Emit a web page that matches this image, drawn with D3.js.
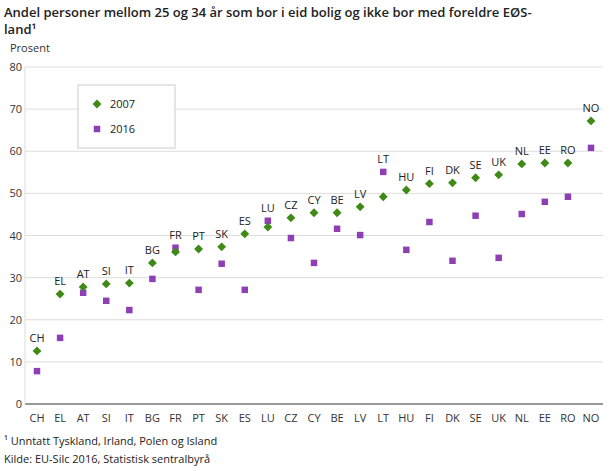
<!DOCTYPE html><html><head><meta charset="utf-8"><script src="https://cdn.jsdelivr.net/npm/d3@7"></script>
<style>body{margin:0;background:#fff;font-family:"Open Sans",sans-serif}</style></head><body><svg id="c" width="610" height="471"></svg>
<script>
const categories=["CH","EL","AT","SI","IT","BG","FR","PT","SK","ES","LU","CZ","CY","BE","LV","LT","HU","FI","DK","SE","UK","NL","EE","RO","NO"];
const v2007=[12.6,26.1,27.8,28.5,28.7,33.5,36.1,36.8,37.3,40.4,42.0,44.2,45.4,45.4,46.8,49.2,50.8,52.3,52.5,53.7,54.4,57.0,57.2,57.2,67.2];
const v2016=[7.8,15.7,26.4,24.5,22.3,29.7,37.1,27.1,33.3,27.1,43.5,39.4,33.5,41.6,40.1,55.1,36.6,43.2,34.0,44.7,34.7,45.1,48.0,49.2,60.8];
const yTicks=[0,10,20,30,40,50,60,70,80];
const svg=d3.select("#c");
const L=25,R=603,T=67,B=404;
const x=d3.scalePoint().domain(categories).range([37,591]);
const y=d3.scaleLinear().domain([0,80]).range([B,T]);
svg.append("text").attr("x",4).attr("y",17).attr("font-size",13).attr("font-weight",600).attr("fill","#222").text("Andel personer mellom 25 og 34 år som bor i eid bolig og ikke bor med foreldre EØS-");
svg.append("text").attr("x",4).attr("y",34).attr("font-size",13).attr("font-weight",600).attr("fill","#222").text("land¹");
svg.append("text").attr("x",10).attr("y",52).attr("font-size",11).attr("fill","#333").text("Prosent");
yTicks.forEach(t=>{
 svg.append("line").attr("x1",L).attr("x2",R).attr("y1",y(t)).attr("y2",y(t)).attr("stroke",t===0?"#333":"#ddd");
 svg.append("text").attr("x",22).attr("y",y(t)+4).attr("text-anchor","end").attr("font-size",11).attr("fill","#333").text(t);
});
svg.append("line").attr("x1",L).attr("x2",L).attr("y1",T).attr("y2",B).attr("stroke","#ddd");
categories.forEach(c=>svg.append("text").attr("x",x(c)).attr("y",422).attr("text-anchor","middle").attr("font-size",11).attr("fill","#333").text(c));
const dia=d3.symbol().type(d3.symbolDiamond2||d3.symbolDiamond).size(50);
categories.forEach((c,i)=>{
 svg.append("path").attr("d",d3.symbol().type(d3.symbolSquare).size(42)()).attr("transform",`translate(${x(c)},${y(v2016[i])})`).attr("fill","#8e3fb5");
 svg.append("path").attr("d",dia()).attr("transform",`translate(${x(c)},${y(v2007[i])})`).attr("fill","#3f8a15");
 svg.append("text").attr("x",x(c)).attr("y",y(Math.max(v2007[i],v2016[i]))-9).attr("text-anchor","middle").attr("font-size",11).attr("fill","#222").text(c);
});
svg.append("rect").attr("x",78).attr("y",85).attr("width",97).attr("height",63).attr("fill","#fff").attr("stroke","#ccc");
svg.append("path").attr("d",dia()).attr("transform","translate(97,104)").attr("fill","#3f8a15");
svg.append("text").attr("x",110).attr("y",108).attr("font-size",11).attr("fill","#222").text("2007");
svg.append("path").attr("d",d3.symbol().type(d3.symbolSquare).size(42)()).attr("transform","translate(97,129)").attr("fill","#8e3fb5");
svg.append("text").attr("x",110).attr("y",133).attr("font-size",11).attr("fill","#222").text("2016");
svg.append("text").attr("x",4).attr("y",445).attr("font-size",11).attr("fill","#222").text("¹ Unntatt Tyskland, Irland, Polen og Island");
svg.append("text").attr("x",4).attr("y",463).attr("font-size",11).attr("fill","#222").text("Kilde: EU-Silc 2016, Statistisk sentralbyrå");
</script></body></html>
